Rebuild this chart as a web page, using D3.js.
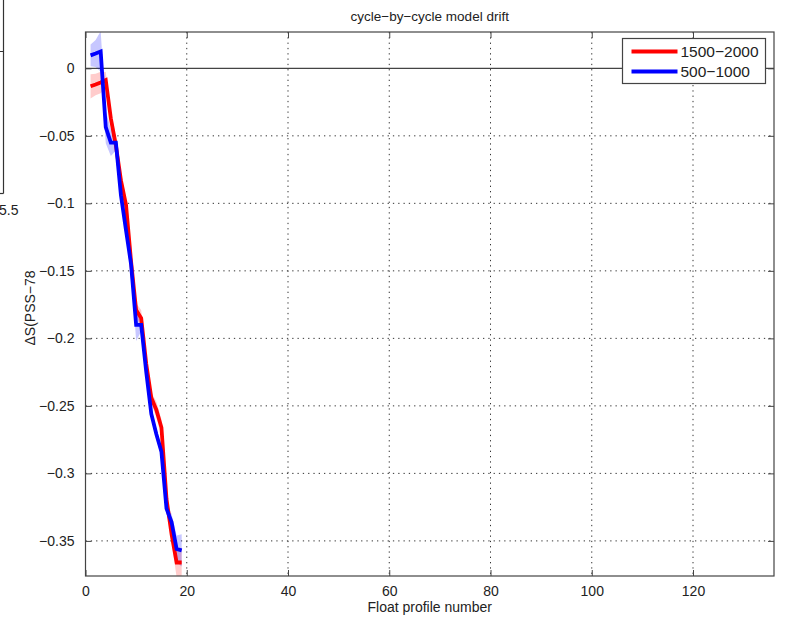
<!DOCTYPE html>
<html>
<head>
<meta charset="utf-8">
<script src="https://cdn.jsdelivr.net/npm/d3@7"></script>
<style>
  body { margin: 0; background: #fff; }
  text { font-family: "Liberation Sans", Arial, sans-serif; fill: #222; }
</style>
</head>
<body>
<script>
// float profile numbers
var profiles = [1, 2, 3, 4, 5, 6, 7, 8, 9, 10, 11, 12, 13, 14, 15, 16, 17, 18, 19];

// 1500-2000 dbar layer
var redMean = [-0.0133, -0.012, -0.0105, -0.0087, -0.037, -0.057, -0.083, -0.101, -0.143, -0.179, -0.185,
               -0.219, -0.244, -0.253, -0.266, -0.319, -0.345, -0.366, -0.366];
var redErr  = [0.009, 0.008, 0.008, 0.006, 0.006, 0.006, 0.006, 0.005, 0.004, 0.005, 0.006,
               0.004, 0.004, 0.006, 0.006, 0.005, 0.006, 0.011, 0.011];

// 500-1000 dbar layer
var blueMean = [0.0096, 0.011, 0.0125, -0.0435, -0.055, -0.055, -0.094, -0.120, -0.145, -0.190, -0.190,
                -0.225, -0.256, -0.271, -0.284, -0.326, -0.336, -0.356, -0.357];
var blueErr  = [0.008, 0.010, 0.015, 0.012, 0.010, 0.006, 0.004, 0.004, 0.004, 0.012, 0.005,
                0.004, 0.004, 0.004, 0.004, 0.005, 0.006, 0.010, 0.012];

var xTicks = [0, 20, 40, 60, 80, 100, 120];
var yTicks = [0, -0.05, -0.1, -0.15, -0.2, -0.25, -0.3, -0.35];
var seriesNames = ["1500\u22122000", "500\u22121000"];

var W = 789, H = 620;
var margin = {top: 32, right: 15, bottom: 44, left: 85.5},
    width = W - margin.left - margin.right,
    height = H - margin.top - margin.bottom;

var svg = d3.select("body")
  .append("svg")
    .attr("width", W)
    .attr("height", H);

// piece of the neighbouring subplot that is cut off on the left
svg.append("line").attr("x1", 3.5).attr("x2", 3.5).attr("y1", 0).attr("y2", 193.5)
  .style("stroke", "#333").style("stroke-width", 1.2);
svg.append("line").attr("x1", 0).attr("x2", 3.5).attr("y1", 193.5).attr("y2", 193.5)
  .style("stroke", "#333").style("stroke-width", 1.2);
svg.append("line").attr("x1", 0).attr("x2", 3.5).attr("y1", 51.5).attr("y2", 51.5)
  .style("stroke", "#333");
svg.append("text").attr("x", -1).attr("y", 215).style("font-size", "14px").text("5.5");

var g = svg.append("g")
    .attr("transform", "translate(" + margin.left + "," + margin.top + ")");

var x = d3.scaleLinear().domain([0, 136]).range([0, width]);
var y = d3.scaleLinear().domain([-0.376, 0.0269]).range([height, 0]);

g.append("clipPath").attr("id", "clip")
  .append("rect").attr("width", width).attr("height", height);

// dotted grid
g.selectAll(".gx")
  .data(xTicks.filter(function(d){ return d > 0; }))
  .enter().append("line")
    .attr("x1", function(d){ return x(d); })
    .attr("x2", function(d){ return x(d); })
    .attr("y1", 0).attr("y2", height)
    .style("stroke", "#333").style("stroke-dasharray", "1.3,4");

g.selectAll(".gy")
  .data(yTicks.filter(function(d){ return d < 0; }))
  .enter().append("line")
    .attr("x1", 0).attr("x2", width)
    .attr("y1", function(d){ return y(d); })
    .attr("y2", function(d){ return y(d); })
    .style("stroke", "#333").style("stroke-dasharray", "1.3,4");

// zero line
g.append("line")
  .attr("x1", 0).attr("x2", width)
  .attr("y1", y(0)).attr("y2", y(0))
  .style("stroke", "#444").style("stroke-width", 1.2);

var series = [
  {name: seriesNames[0], mean: redMean, err: redErr, line: "#ff0000", band: "rgba(255,0,0,0.2)"},
  {name: seriesNames[1], mean: blueMean, err: blueErr, line: "#0000ff", band: "rgba(0,0,255,0.22)"}
];

var area = d3.area()
  .x(function(d){ return x(d.n); })
  .y0(function(d){ return y(d.v - d.e); })
  .y1(function(d){ return y(d.v + d.e); });

var line = d3.line()
  .x(function(d){ return x(d.n); })
  .y(function(d){ return y(d.v); });

var plot = g.append("g").attr("clip-path", "url(#clip)");

series.forEach(function(s){
  s.pts = profiles.map(function(n, i){ return {n: n, v: s.mean[i], e: s.err[i]}; });
  plot.append("path")
    .datum(s.pts)
    .attr("d", area)
    .style("fill", s.band)
    .style("stroke", "none");
});

series.forEach(function(s){
  plot.append("path")
    .datum(s.pts)
    .attr("d", line)
    .style("fill", "none")
    .style("stroke", s.line)
    .style("stroke-width", 3.8)
    .style("stroke-linejoin", "miter");
});

// axes, ticks pointing inwards
var fmtY = function(d){ return d === 0 ? "0" : "\u2212" + String(+(-d).toFixed(2)); };

g.append("g")
  .attr("transform", "translate(0," + height + ")")
  .call(d3.axisBottom(x).tickValues(xTicks).tickSizeInner(-6).tickSizeOuter(0).tickPadding(10))
  .call(function(a){
    a.select(".domain").remove();
    a.selectAll("line").style("stroke", "#444");
    a.selectAll("text").style("font-size", "14px").style("fill", "#222").style("font-family", "'Liberation Sans', Arial, sans-serif");
  });

g.append("g")
  .call(d3.axisTop(x).tickValues(xTicks).tickSizeInner(-6).tickSizeOuter(0).tickFormat(""))
  .call(function(a){
    a.select(".domain").remove();
    a.selectAll("line").style("stroke", "#444");
  });

g.append("g")
  .call(d3.axisLeft(y).tickValues(yTicks).tickFormat(fmtY).tickSizeInner(-6).tickSizeOuter(0).tickPadding(11))
  .call(function(a){
    a.select(".domain").remove();
    a.selectAll("line").style("stroke", "#444");
    a.selectAll("text").style("font-size", "14px").style("fill", "#222").style("font-family", "'Liberation Sans', Arial, sans-serif");
  });

g.append("g")
  .attr("transform", "translate(" + width + ",0)")
  .call(d3.axisRight(y).tickValues(yTicks).tickSizeInner(-6).tickSizeOuter(0).tickFormat(""))
  .call(function(a){
    a.select(".domain").remove();
    a.selectAll("line").style("stroke", "#444");
  });

// box
g.append("rect")
  .attr("width", width).attr("height", height)
  .style("fill", "none").style("stroke", "#444").style("stroke-width", 1.2);

// title and labels
g.append("text")
  .attr("x", width / 2).attr("y", -11)
  .attr("text-anchor", "middle")
  .style("font-size", "13.5px")
  .text("cycle\u2212by\u2212cycle model drift");

g.append("text")
  .attr("x", width / 2).attr("y", height + 36)
  .attr("text-anchor", "middle")
  .style("font-size", "14px")
  .text("Float profile number");

svg.append("text")
  .attr("transform", "translate(35," + 308 + ") rotate(-90)")
  .attr("text-anchor", "middle")
  .style("font-size", "14px")
  .text("\u0394S(PSS\u221278");

// legend
var lg = svg.append("g").attr("transform", "translate(622.5,38.5)");
lg.append("rect")
  .attr("width", 143).attr("height", 45)
  .style("fill", "#fff").style("stroke", "#444").style("stroke-width", 1.2);

series.forEach(function(s, i){
  var yy = 13 + i * 20;
  lg.append("line")
    .attr("x1", 9).attr("x2", 55)
    .attr("y1", yy).attr("y2", yy)
    .style("stroke", s.line).style("stroke-width", 3.8);
  lg.append("text")
    .attr("x", 58).attr("y", yy + 5.5)
    .style("font-size", "15.5px")
    .text(s.name);
});
</script>
</body>
</html>
